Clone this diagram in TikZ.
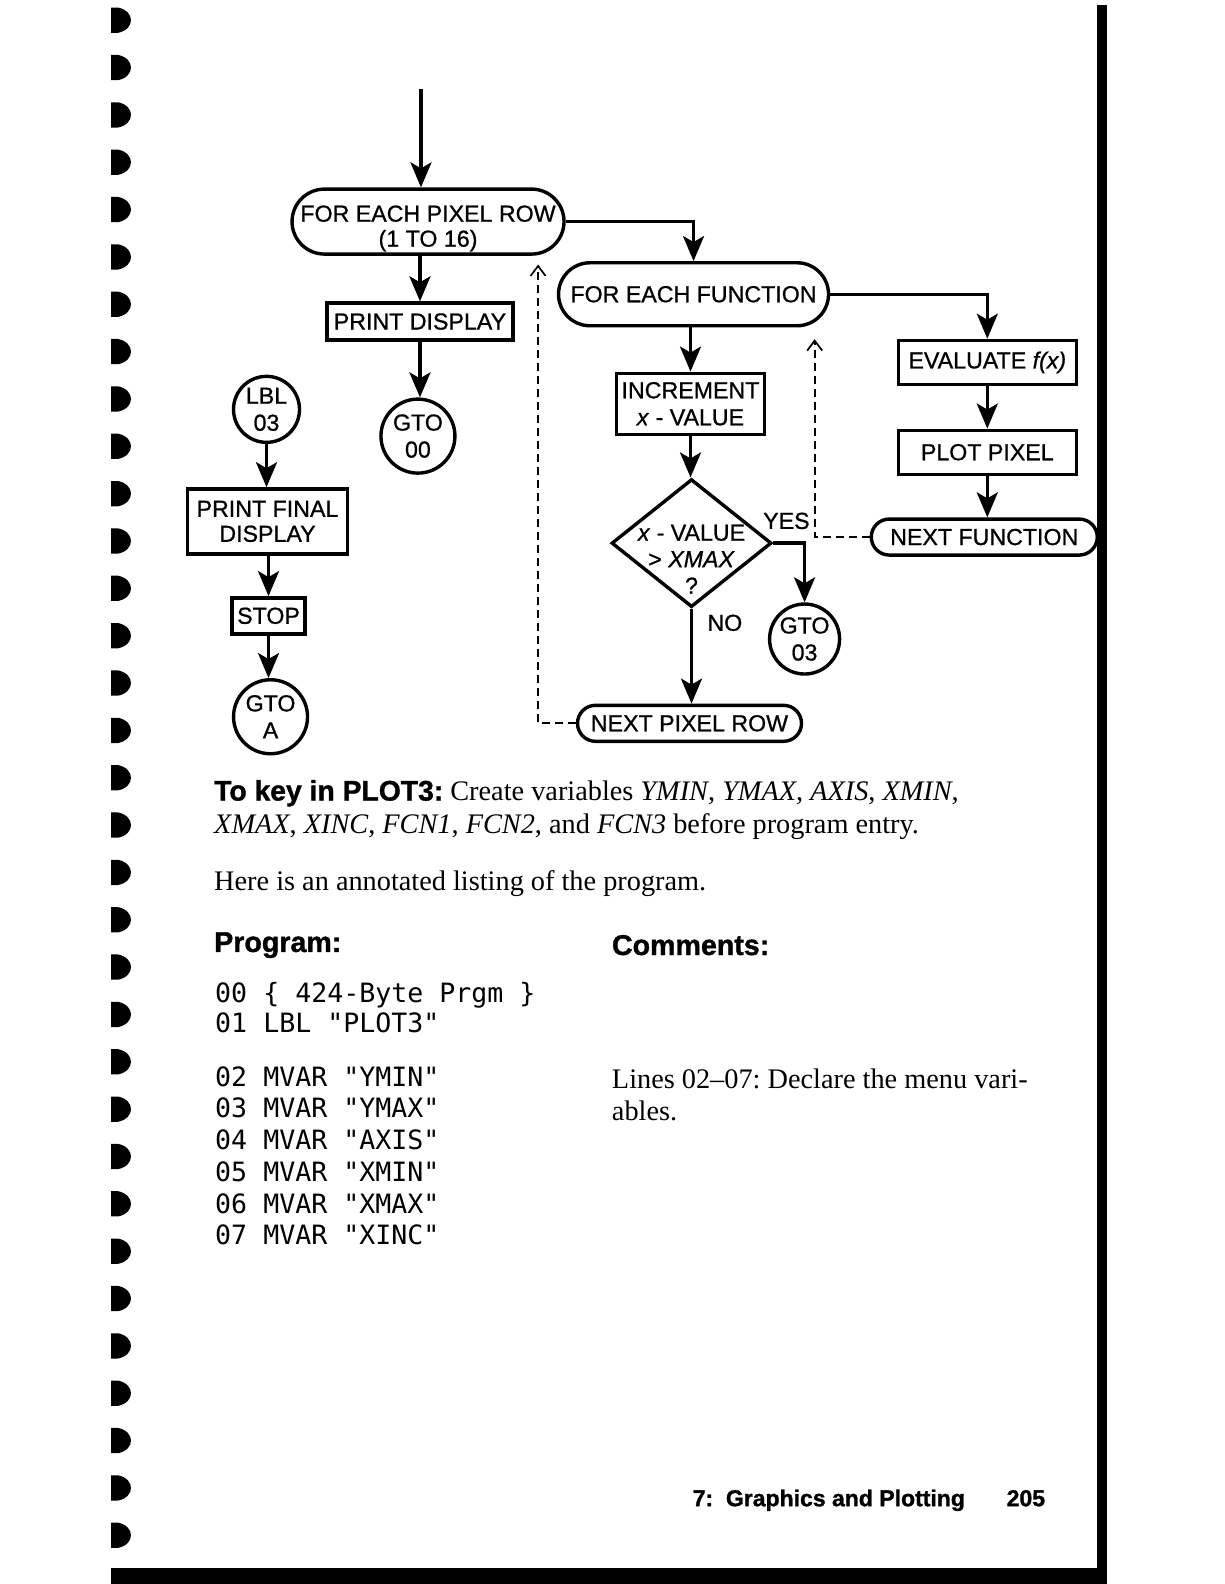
\documentclass[tikz,border=0pt]{standalone}
\usepackage{fontspec}
\setmainfont{Liberation Serif}
\setsansfont{Liberation Sans}
\setmonofont{DejaVu Sans Mono}
\newfontfamily\flowfont[FakeBold=0.8]{Liberation Sans}
\newfontfamily\heavyfont[UprightFont={* Bold},FakeBold=1.2]{Liberation Sans}
\usetikzlibrary{arrows.meta,shapes.geometric}
\frenchspacing
\begin{document}
\begin{tikzpicture}[x=1.0095pt,y=-1.0095pt,
  flow/.style={font=\flowfont\fontsize{23.2}{27}\selectfont, line width=3.4pt, align=center, inner sep=0pt},
  box/.style={flow, draw, rectangle},
  term/.style={flow, draw, rectangle, rounded corners=#1},
  circ/.style={flow, draw, circle},
  dia/.style={flow, draw, diamond},
  lbl/.style={font=\flowfont\fontsize{23.2}{27}\selectfont, inner sep=0pt},
  arr/.style={line width=3.4pt, -{Stealth[length=25pt,width=21pt,inset=6pt]}},
  back/.style={line width=1.7pt, dash pattern=on 8pt off 5pt, -{Straight Barb[length=10pt,width=15pt]}},
  body/.style={font=\fontsize{28.3}{33}\selectfont, inner sep=0pt, anchor=base west},
  head/.style={font=\heavyfont\fontsize{28.6}{33}\selectfont, inner sep=0pt, anchor=base west},
  code/.style={font=\ttfamily\fontsize{26.6}{31}\selectfont, inner sep=0pt, anchor=base west},
  foot/.style={font=\heavyfont\fontsize{23}{26}\selectfont, inner sep=0pt, anchor=base west}
]
\useasboundingbox (0pt,0pt) rectangle (1224pt,-1584pt);
\fill[white] (0pt,0pt) rectangle (1224pt,-1584pt);
% binding holes
\foreach \k in {0,...,32} {
  \pgfmathsetmacro\yy{20+46.9*\k}
  \fill (110,\yy-12.5) -- (117,\yy-12.5) .. controls (134,\yy-9) and (134,\yy+9) .. (117,\yy+12.5) -- (110,\yy+12.5) -- cycle;
}
% page edges
\fill (1087,5) rectangle (1097,1600);
\fill (110,1553.5) rectangle (1097,1600);

% flowchart nodes
\coordinate (start) at (417,88);
\node[term=32.5pt, minimum width=272pt, minimum height=65pt] (fepr) at (424,219.5) {\rule{0pt}{30pt}FOR EACH PIXEL ROW\\[-2pt](1 TO 16)};
\node[box, minimum width=186pt, minimum height=37pt] (pd) at (416,318.5) {PRINT DISPLAY};
\node[circ, minimum size=74pt] (gto00) at (414,432) {GTO\\00};
\node[term=31.5pt, minimum width=270pt, minimum height=63pt] (fef) at (687,291.5) {FOR EACH FUNCTION};
\node[box, minimum width=148pt, minimum height=61pt] (inc) at (684,400) {INCREMENT\\\textit{x} - VALUE};
\node[dia, minimum width=160pt, minimum height=128pt] (dec) at (685,538)
  {\raisebox{-25pt}[0pt][0pt]{\makebox[0pt]{\fontsize{23.2}{26.5}\selectfont\begin{tabular}{@{}c@{}}\textit{x} - VALUE\\> \textit{XMAX}\\?\end{tabular}}}};
\node[circ, minimum size=70pt] (gto03) at (797,633) {GTO\\03};
\node[term=18pt, minimum width=224pt, minimum height=36pt] (npr) at (683,716.5) {NEXT PIXEL ROW};
\node[box, minimum width=178pt, minimum height=44pt] (eval) at (978,359) {EVALUATE \textit{f(x)}};
\node[box, minimum width=178pt, minimum height=44pt] (pp) at (978,448) {PLOT PIXEL};
\node[term=18pt, minimum width=226pt, minimum height=36pt] (nf) at (975,532) {NEXT FUNCTION};
\node[circ, minimum size=66pt] (lbl03) at (264,405.5) {LBL\\03};
\node[box, minimum width=160pt, minimum height=65pt] (pfd) at (265,516.5) {PRINT FINAL\\[-2pt]DISPLAY};
\node[box, minimum width=73pt, minimum height=36pt] (stop) at (266,610) {STOP};
\node[circ, minimum size=74pt] (gtoa) at (268,710) {GTO\\A};
\node[lbl] (yes) at (779,516) {YES};
\node[lbl] (no) at (718,617) {NO};
\coordinate (ret1) at (533,262);
\coordinate (ret2) at (807,336);

% connectors
\draw[arr] (start) -- (start |- fepr.north);
\draw[arr] (fepr.east) -| (fef.north);
\draw[arr] (pd.north |- fepr.south) -- (pd.north);
\draw[arr] (pd.south) -- (pd.south |- gto00.north);
\draw[arr] (fef.east) -| (eval.north);
\draw[arr] (eval.south) -- (pp.north);
\draw[arr] (pp.south) -- (pp.south |- nf.north);
\draw[back] (nf.west) -| (ret2);
\draw[arr] (inc.north |- fef.south) -- (inc.north);
\draw[arr] (inc.south) -- (inc.south |- dec.north);
\draw[arr] (dec.east) -| (gto03.north);
\draw[arr] (dec.south) -- (dec.south |- npr.north);
\draw[back] (npr.west) -| (ret1);
\draw[arr] (lbl03.south) -- (lbl03.south |- pfd.north);
\draw[arr] (stop.north |- pfd.south) -- (stop.north);
\draw[arr] (stop.south) -- (stop.south |- gtoa.north);

% text
\node[body] (t1) at (212,793) {{\heavyfont To key in PLOT3:} Create variables \textit{YMIN}, \textit{YMAX}, \textit{AXIS}, \textit{XMIN},};
\node[body] (t2) at (212,826) {\textit{XMAX}, \textit{XINC}, \textit{FCN1}, \textit{FCN2}, and \textit{FCN3} before program entry.};
\node[body] (t3) at (212,882) {Here is an annotated listing of the program.};
\node[head] (prog) at (212,943) {Program:};
\node[head] (comm) at (606,946) {Comments:};
\node[code] (c00) at (213,993) {00 \{ 424-Byte Prgm \}};
\node[code] (c01) at (213,1023) {01 LBL "PLOT3"};
\node[code] (c02) at (213,1076) {02 MVAR "YMIN"};
\node[code] (c03) at (213,1107) {03 MVAR "YMAX"};
\node[code] (c04) at (213,1139) {04 MVAR "AXIS"};
\node[code] (c05) at (213,1170) {05 MVAR "XMIN"};
\node[code] (c06) at (213,1202) {06 MVAR "XMAX"};
\node[code] (c07) at (213,1233) {07 MVAR "XINC"};
\node[body] (cm1) at (606,1078) {Lines 02–07: Declare the menu vari-};
\node[body] (cm2) at (606,1110) {ables.};
\node[foot] (ft) at (686,1492) {7:\ \ Graphics and Plotting};
\node[foot] (pg) at (997,1492) {205};
\end{tikzpicture}
\end{document}
